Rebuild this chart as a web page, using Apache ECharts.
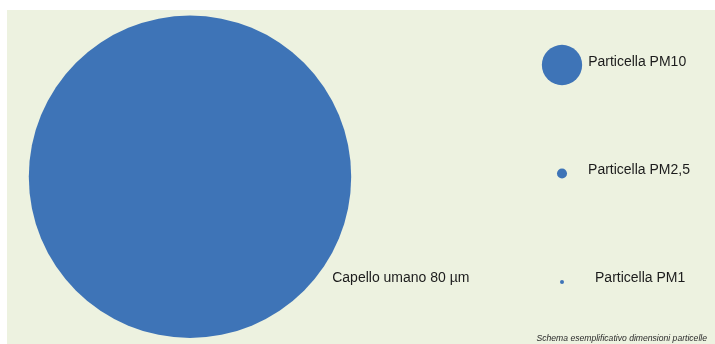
<!DOCTYPE html>
<html>
<head>
<meta charset="utf-8">
<script src="https://cdn.jsdelivr.net/npm/echarts@6/dist/echarts.min.js"></script>
<style>
  html, body { margin: 0; padding: 0; background: #fff; }
  #chart { width: 715px; height: 344px; }
</style>
</head>
<body>
<div id="chart"></div>
<script>
// diameters in micrometres, drawn to scale
const names = ["Capello umano 80 µm", "Particella PM10", "Particella PM2,5", "Particella PM1"];
const diameters = [80, 10, 2.5, 1];
const columns = [0, 1, 1, 1];
const rows = [1.03, 0, 1, 2];

const pxPerMicron = 4.03;

// label placement per item (style, not data)
const labelCfg = [
  { distance: -19, offset: [0, 101] },
  { distance: 6, offset: [0, -3] },
  { distance: 21, offset: [0, -3] },
  { distance: 31, offset: [0, -4] }
];

const data = names.map((n, i) => ({
  name: n,
  value: [columns[i], rows[i], diameters[i]],
  label: {
    show: true,
    position: "right",
    distance: labelCfg[i].distance,
    offset: labelCfg[i].offset,
    formatter: n,
    color: "#1c1c1c",
    fontSize: 14,
    fontFamily: "Liberation Sans, Arial, sans-serif"
  }
}));

const chart = echarts.init(document.getElementById("chart"), null, { renderer: "canvas" });

chart.setOption({
  animation: false,
  backgroundColor: "#ffffff",
  graphic: [
    {
      type: "rect",
      z: -10,
      silent: true,
      shape: { x: 7, y: 10, width: 708, height: 334 },
      style: { fill: "#edf2e0" }
    },
    {
      type: "text",
      right: 8,
      bottom: 1,
      style: {
        text: "Schema esemplificativo dimensioni particelle",
        fill: "#2a2a2a",
        fontSize: 8.6,
        fontStyle: "italic",
        fontFamily: "Liberation Sans, Arial, sans-serif"
      }
    }
  ],
  grid: { left: 190, right: 153, top: 65, bottom: 62 },
  xAxis: { type: "value", min: 0, max: 1, show: false },
  yAxis: { type: "value", min: 0, max: 2, inverse: true, show: false },
  series: [
    {
      type: "scatter",
      symbol: "circle",
      symbolSize: (v) => v[2] * pxPerMicron,
      itemStyle: { color: "#3e74b7", opacity: 1 },
      data: data
    }
  ]
});
</script>
</body>
</html>
